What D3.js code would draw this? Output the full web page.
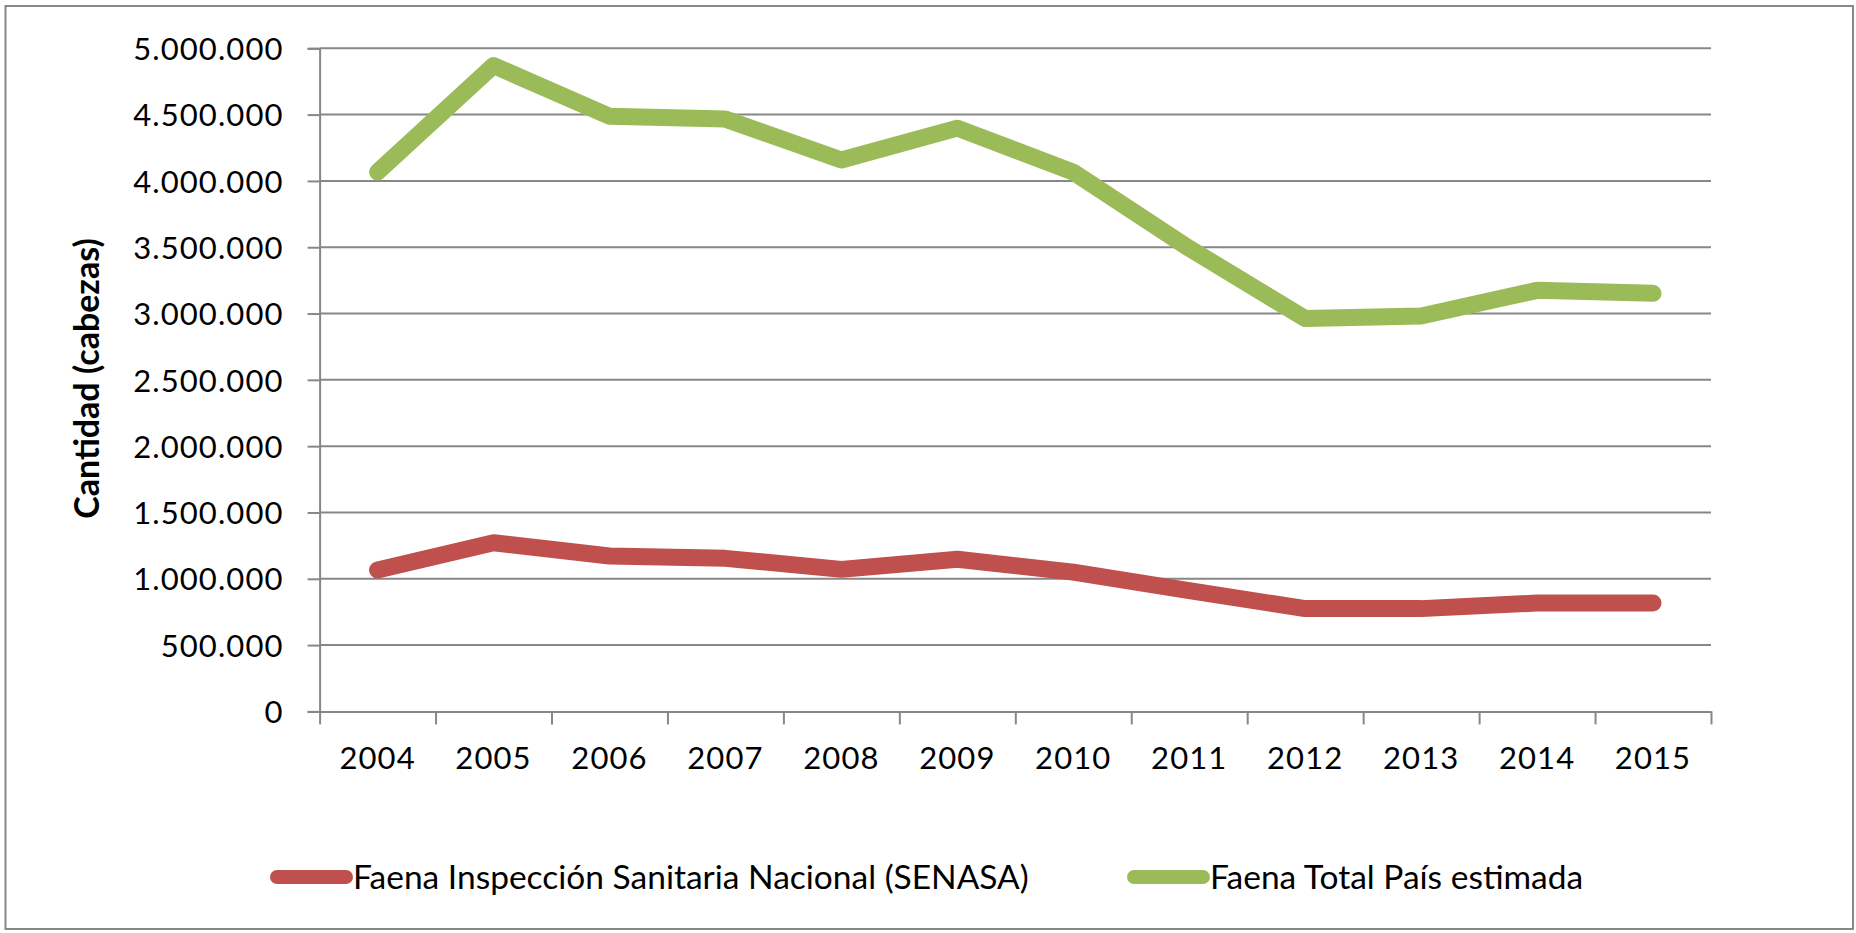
<!DOCTYPE html>
<html>
<head>
<meta charset="utf-8">
<script src="https://cdn.jsdelivr.net/npm/d3@7"></script>
<style>
  html, body { margin: 0; padding: 0; background: #fff; }
  svg { display: block; }
  text { font-family: Lato, "Open Sans", sans-serif; fill: #000; }
</style>
</head>
<body>
<svg id="chart" width="1856" height="933"></svg>
<script>
const years = ["2004","2005","2006","2007","2008","2009","2010","2011","2012","2013","2014","2015"];
const senasa = [1066000, 1272000, 1172000, 1154000, 1071000, 1147000, 1050000, 910000, 775000, 775000, 817000, 817000];
const totalPais = [4068000, 4870000, 4487000, 4466000, 4158000, 4398000, 4066000, 3492000, 2962000, 2982000, 3175000, 3153000];
const yTickValues = [0, 500000, 1000000, 1500000, 2000000, 2500000, 3000000, 3500000, 4000000, 4500000, 5000000];
const seriesNames = ["Faena Inspección Sanitaria Nacional (SENASA)", "Faena Total País estimada"];
const seriesColors = ["#C0504D", "#9BBB59"];
const yTitle = "Cantidad (cabezas)";

const svg = d3.select("#chart");
const plotLeft = 319.6, plotRight = 1711, plotTop = 48.3, plotBottom = 711.4;
const grid = "#878787";

const loc = d3.formatLocale({decimal: ",", thousands: ".", grouping: [3], currency: ["$", ""]});
const fmt = loc.format(",d");

// outer border
svg.append("rect").attr("x", 5.5).attr("y", 6).attr("width", 1847.5).attr("height", 923)
  .attr("fill", "#fff").attr("stroke", "#888").attr("stroke-width", 2);

const x = d3.scaleBand().domain(years).range([plotLeft, plotRight]);
const xb = d3.scaleLinear().domain([0, years.length]).range([plotLeft, plotRight]);
const y = d3.scaleLinear().domain([0, 5000000]).range([plotBottom, plotTop]);

// gridlines
svg.append("g").selectAll("line").data(yTickValues.filter(d => d > 0)).join("line")
  .attr("x1", plotLeft).attr("x2", plotRight)
  .attr("y1", d => y(d)).attr("y2", d => y(d))
  .attr("stroke", grid).attr("stroke-width", 2);

// y axis
const yAxis = svg.append("g").attr("transform", `translate(${plotLeft},0)`)
  .call(d3.axisLeft(y).tickValues(yTickValues).tickSize(12).tickPadding(24).tickFormat(fmt));
yAxis.select(".domain").attr("stroke", grid).attr("stroke-width", 2);
yAxis.selectAll(".tick line").attr("stroke", grid).attr("stroke-width", 2);
yAxis.selectAll(".tick text").attr("font-size", 31).attr("font-family", "Lato")
  .attr("letter-spacing", 1.1).attr("fill", "#000").attr("dy", "0.36em");

// x axis ticks (category boundaries)
const xAxisTicks = svg.append("g").attr("transform", `translate(0,${plotBottom})`)
  .call(d3.axisBottom(xb).tickValues(d3.range(years.length + 1)).tickSize(13).tickSizeOuter(0).tickFormat(""));
xAxisTicks.select(".domain").attr("stroke", grid).attr("stroke-width", 2);
xAxisTicks.selectAll(".tick line").attr("stroke", grid).attr("stroke-width", 2);

// x labels
const xAxisLabels = svg.append("g").attr("transform", `translate(0,${plotBottom})`)
  .call(d3.axisBottom(x).tickSize(0).tickPadding(36));
xAxisLabels.select(".domain").remove();
xAxisLabels.selectAll(".tick text").attr("font-size", 31).attr("font-family", "Lato")
  .attr("letter-spacing", 1.1).attr("fill", "#000");

// y title
svg.append("text")
  .attr("transform", `translate(99,378.5) rotate(-90)`)
  .attr("text-anchor", "middle")
  .attr("font-size", 34).attr("font-weight", "bold")
  .text(yTitle);

// lines
const line = d3.line().x((d, i) => x(years[i]) + x.bandwidth() / 2).y(d => y(d));
[senasa, totalPais].forEach((data, k) => {
  svg.append("path").datum(data).attr("d", line)
    .attr("fill", "none").attr("stroke", seriesColors[k]).attr("stroke-width", 17)
    .attr("stroke-linecap", "round").attr("stroke-linejoin", "round");
});

// legend
const legendX = [277, 1134];
const legendY = 877;
seriesNames.forEach((name, k) => {
  const g = svg.append("g");
  g.append("line").attr("x1", legendX[k]).attr("x2", legendX[k] + 69)
    .attr("y1", legendY).attr("y2", legendY)
    .attr("stroke", seriesColors[k]).attr("stroke-width", 14).attr("stroke-linecap", "round");
  g.append("text").attr("x", legendX[k] + 76).attr("y", 889)
    .attr("font-size", 33.5).text(name);
});
</script>
</body>
</html>
